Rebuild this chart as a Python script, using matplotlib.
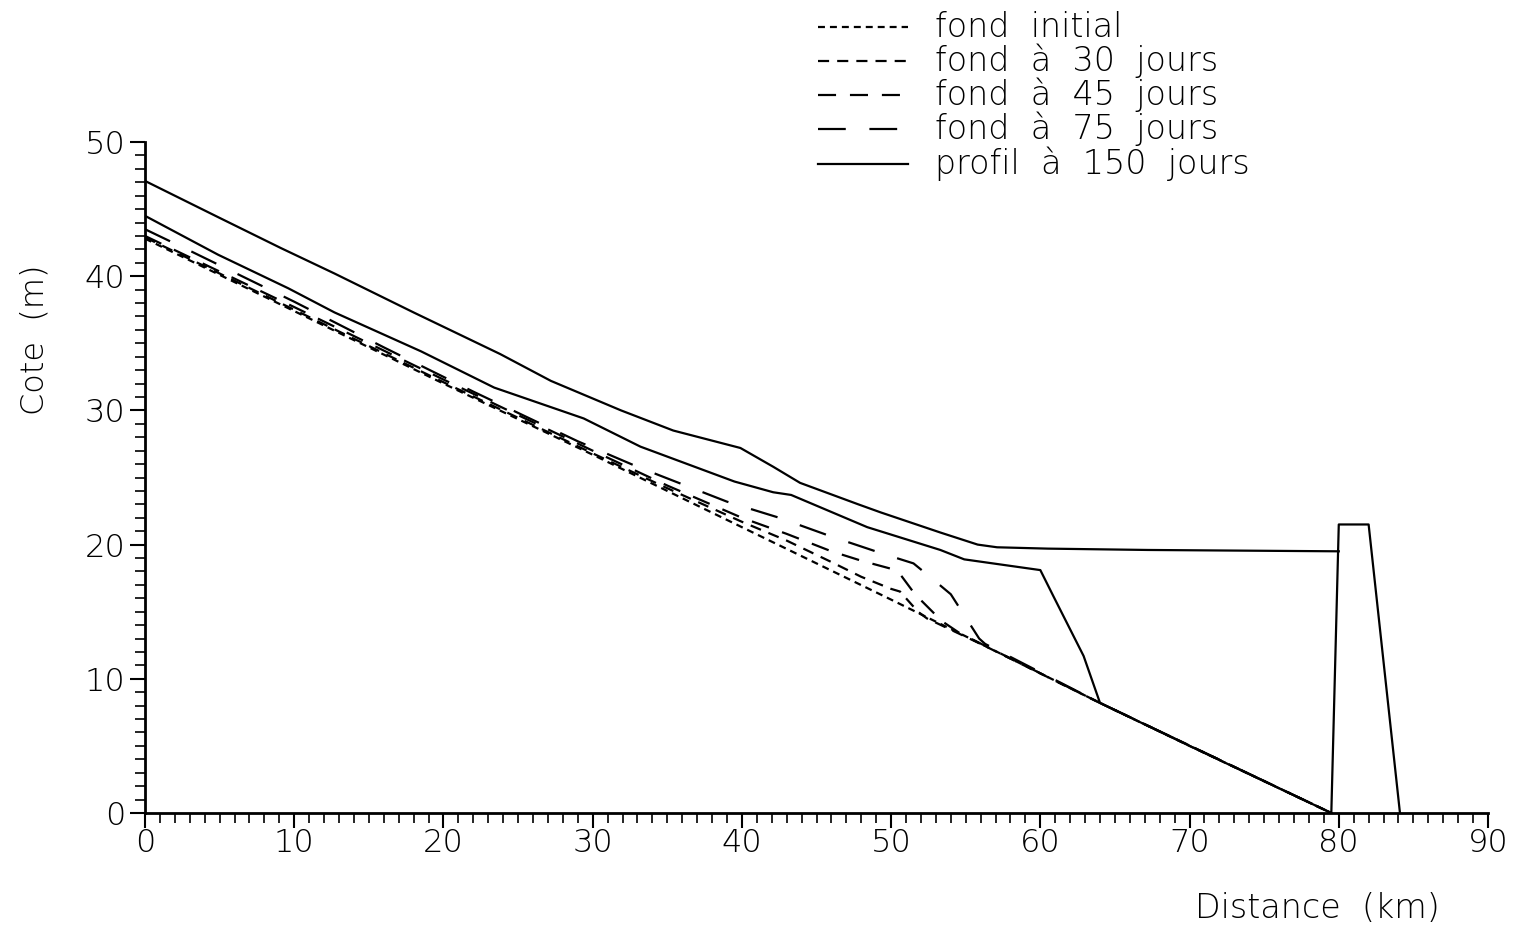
import matplotlib
matplotlib.use("Agg")
import matplotlib.pyplot as plt
from matplotlib.lines import Line2D
from matplotlib.ticker import MultipleLocator

plt.rcParams['font.family'] = ['DejaVu Sans']
plt.rcParams['font.weight'] = 'light'
plt.rcParams['lines.scale_dashes'] = False

# bed profiles (distance km, elevation m)
x_init = [0, 10, 20, 30, 40, 50, 55.3, 64, 70, 79.5]
y_init = [42.8, 37.4, 32.0, 26.7, 21.3, 15.9, 13.0, 8.2, 5.0, 0.0]

x_30 = [0, 10, 20, 30, 35, 40, 43, 46, 48, 50, 50.6, 51.8, 52.4, 56, 64, 79.5]
y_30 = [42.9, 37.5, 32.1, 26.8, 24.2, 21.7, 20.3, 18.7, 17.6, 16.7, 16.5, 15.0, 14.5, 12.6, 8.2, 0.0]

x_45 = [0, 10, 20, 30, 35, 40, 43, 46, 48, 50, 50.6, 51.6, 53.4, 54.6, 64, 79.5]
y_45 = [43.0, 37.7, 32.3, 27.0, 24.4, 22.0, 20.8, 19.5, 18.8, 18.2, 17.8, 16.3, 14.3, 13.4, 8.2, 0.0]

x_75 = [0, 3, 10, 16, 22, 29, 33, 36, 39, 42.5, 46, 49.5, 51.5, 52.6, 54, 55.9, 56.3, 64, 79.5]
y_75 = [43.5, 41.9, 38.1, 34.7, 31.4, 27.7, 25.8, 24.5, 23.2, 22.0, 20.6, 19.3, 18.6, 17.6, 16.3, 13.0, 12.6, 8.2, 0.0]

# profile at 150 days: bed and water surface
x_bed150 = [0, 4.9, 9.6, 12.7, 18.5, 23.4, 29.4, 33.2, 39.5, 42.1, 43.3, 48.4, 53.3, 54.9, 60.0, 60.9, 62.9, 64.0, 70, 79.5]
y_bed150 = [44.5, 41.6, 39.1, 37.3, 34.4, 31.7, 29.4, 27.3, 24.7, 23.9, 23.7, 21.3, 19.6, 18.9, 18.1, 16.1, 11.7, 8.2, 5.0, 0.0]

x_surf = [0, 4.9, 9.1, 12.7, 18.0, 23.8, 27.2, 31.9, 35.4, 39.9, 42.1, 43.9, 47.8, 49.3, 53.3, 55.8, 57.1, 60.5, 67.2, 80.0]
y_surf = [47.1, 44.4, 42.1, 40.2, 37.3, 34.2, 32.2, 30.0, 28.5, 27.2, 25.8, 24.6, 23.0, 22.4, 20.9, 20.0, 19.8, 19.7, 19.6, 19.5]

# dam
x_dam = [79.5, 80.0, 82.0, 84.1]
y_dam = [0.0, 21.5, 21.5, 0.0]

labels = ['fond  initial', 'fond  à  30  jours', 'fond  à  45  jours',
          'fond  à  75  jours', 'profil  à  150  jours']
dash_styles = [(0, (5, 3.6)), (0, (8, 5.8)), (0, (13, 10)), (0, (20, 17)), '-']

fig = plt.figure(figsize=(15.2, 9.31), dpi=100)
W, H = 1520, 931
ax = fig.add_axes([145 / W, 1 - 813 / H, (1488 - 145) / W, (813 - 142) / H])

lw = 1.6
ax.plot(x_init, y_init, color='k', lw=lw, linestyle=dash_styles[0])
ax.plot(x_30, y_30, color='k', lw=lw, linestyle=dash_styles[1])
ax.plot(x_45, y_45, color='k', lw=lw, linestyle=dash_styles[2])
ax.plot(x_75, y_75, color='k', lw=lw, linestyle=dash_styles[3])
ax.plot(x_bed150, y_bed150, color='k', lw=lw)
ax.plot(x_surf, y_surf, color='k', lw=lw)
ax.plot(x_dam, y_dam, color='k', lw=lw)

ax.set_xlim(0, 90)
ax.set_ylim(0, 50)
for s in ['top', 'right']:
    ax.spines[s].set_visible(False)
for s in ['left', 'bottom']:
    ax.spines[s].set_linewidth(2)

ax.xaxis.set_major_locator(MultipleLocator(10))
ax.xaxis.set_minor_locator(MultipleLocator(1))
ax.yaxis.set_major_locator(MultipleLocator(10))
ax.yaxis.set_minor_locator(MultipleLocator(1))
ax.tick_params(which='major', direction='out', length=11, width=1.5, labelsize=23)
ax.tick_params(axis='x', which='major', pad=0)
ax.tick_params(axis='y', which='major', pad=3)
ax.tick_params(which='minor', direction='out', length=7, width=1.2)

fig.text(35 / W, 1 - 340 / H, 'Cote  (m)', rotation=90, ha='center', va='center', fontsize=23)
fig.text(1440 / W, 1 - 918 / H, 'Distance  (km)', ha='right', va='baseline', fontsize=24)

# legend drawn in figure pixels
rows = [27, 61, 95, 129, 164]
for yy, lab, ls in zip(rows, labels, dash_styles):
    fig.add_artist(Line2D([818 / W, 908 / W], [1 - yy / H, 1 - yy / H],
                          color='k', lw=lw, linestyle=ls, transform=fig.transFigure))
    fig.text(935 / W, 1 - (yy + 10) / H, lab, ha='left', va='baseline', fontsize=24)

fig.savefig('out.png', dpi=100, facecolor='white')
